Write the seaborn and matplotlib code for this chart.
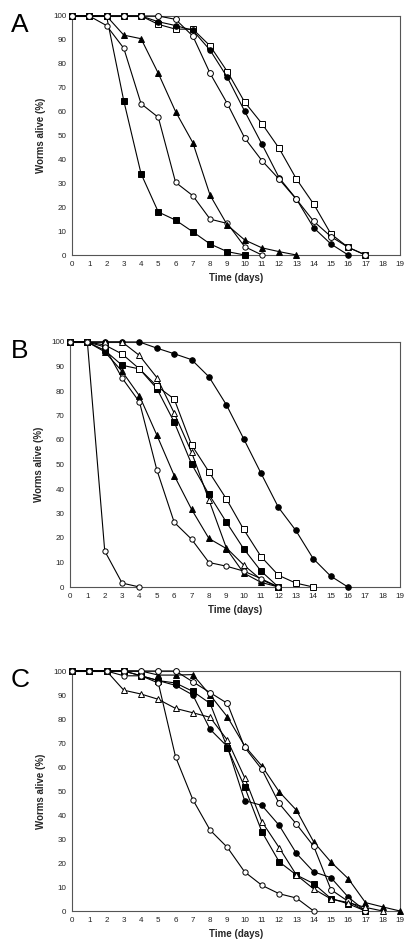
import numpy as np
import pandas as pd
import seaborn as sns
import matplotlib.pyplot as plt

# ---- Panel A: survival (%) per day ----
a_filled_square = [100, 100, 100, 64.5, 34, 18, 14.6, 9.7, 4.6, 1.4, 0]
a_open_circle_fast = [100, 100, 96, 86.5, 63.3, 57.6, 30.4, 24.8, 15, 13.2, 3.5, 0]
a_filled_triangle = [100, 100, 100, 92, 90.5, 76, 60, 47, 25, 12.5, 6.3, 3, 1.4, 0]
a_open_square = [100, 100, 100, 100, 100, 96.5, 94.5, 94.5, 87.5, 76.7, 64, 55, 44.6,
                 31.8, 21.3, 8.8, 3.2, 0]
a_filled_circle = [100, 100, 100, 100, 100, 97.6, 96, 94, 85.7, 74.3, 60.2, 46.4, 32.3,
                   23.4, 11.4, 4.6, 0]
a_open_circle = [100, 100, 100, 100, 100, 100, 98.6, 91.6, 76, 63.3, 49, 39.5, 31.7,
                 23.3, 14.1, 7.7, 3.2, 0]

# ---- Panel B ----
b_open_circle_fast = [100, 100, 14.7, 1.6, 0]
b_filled_circle = [100, 100, 100, 100, 100, 97.5, 95.2, 92.8, 85.8, 74.4, 60.5, 46.4,
                   32.5, 23.1, 11.6, 4.5, 0]
b_filled_square = [100, 100, 96.6, 90.5, 89, 81, 67.3, 50.2, 37.8, 26.5, 15.6, 6.5, 0]
b_open_square = [100, 100, 98.8, 95.1, 89, 82, 76.7, 58, 47, 36, 23.5, 12.4, 4.8, 1.6, 0]
b_open_triangle = [100, 100, 100, 100, 94.5, 85.5, 71, 55, 35.5, 16, 9, 3, 0]
b_filled_triangle = [100, 100, 96, 88, 78, 62, 45.5, 31.7, 19.8, 15.7, 5.7, 1.9, 0]
b_open_circle = [100, 100, 98, 85.3, 75.5, 47.8, 26.4, 19.5, 10, 8.5, 6.5, 3.4, 0]

# ---- Panel C ----
c_filled_square = [100, 100, 100, 100, 98, 96, 95, 91.5, 86.5, 68, 51.7, 33, 20.5, 15,
                   11.4, 5.2, 3, 0]
c_filled_circle = [100, 100, 100, 100, 98, 96, 94, 90, 75.7, 68.5, 46, 44, 35.7, 24,
                   16.3, 13.9, 5.8, 0]
c_filled_triangle = [100, 100, 100, 100, 100, 98.3, 98.3, 98.5, 90, 80.9, 68.8, 60.4,
                     49.7, 42, 28.8, 20.4, 13.5, 3.5, 1.7, 0]
c_open_circle = [100, 100, 100, 100, 100, 100, 100, 95.5, 91, 86.5, 68.2, 59, 44.8,
                 36.2, 27, 8.9, 4, 0]
c_open_triangle = [100, 100, 100, 92, 90.4, 88.2, 84.4, 82.6, 80.7, 71.2, 55.6, 37.2,
                   26.4, 15, 9.2, 5, 3.5, 1.5, 0]
c_open_circle_fast = [100, 100, 100, 98, 98, 95, 64.2, 46.4, 33.7, 26.5, 16.3, 10.7,
                      7.2, 5.4, 0]

panel_letters = ["A", "B", "C"]
day_ticks = list(range(0, 20))
pct_ticks = list(range(0, 101, 10))

# marker styles: (marker, face, size)
styles = {
    "filled_square": ("s", "black", 4.3),
    "open_square": ("s", "white", 4.8),
    "filled_circle": ("o", "black", 4.0),
    "open_circle": ("o", "white", 4.2),
    "open_circle_fast": ("o", "white", 3.8),
    "filled_triangle": ("^", "black", 4.6),
    "open_triangle": ("^", "white", 4.8),
}

panels = [
    [("filled_square", a_filled_square), ("open_circle_fast", a_open_circle_fast),
     ("filled_triangle", a_filled_triangle), ("open_square", a_open_square),
     ("filled_circle", a_filled_circle), ("open_circle", a_open_circle)],
    [("open_circle_fast", b_open_circle_fast), ("filled_circle", b_filled_circle),
     ("filled_square", b_filled_square), ("open_square", b_open_square),
     ("open_triangle", b_open_triangle), ("filled_triangle", b_filled_triangle),
     ("open_circle_fast", b_open_circle)],
    [("filled_square", c_filled_square), ("filled_circle", c_filled_circle),
     ("filled_triangle", c_filled_triangle), ("open_circle", c_open_circle),
     ("open_triangle", c_open_triangle), ("open_circle_fast", c_open_circle_fast)],
]

sns.set_style("ticks")
plt.rcParams["font.family"] = ["Liberation Sans", "DejaVu Sans"]

fig = plt.figure(figsize=(4.17, 9.49), dpi=100)
W, H = 417, 949
# axes boxes in pixels: left, top, right, bottom
boxes = [(72, 16, 400, 255), (70, 342, 400, 587), (72, 671, 400, 911)]

for letter, box, series in zip(panel_letters, boxes, panels):
    l, t, r, b = box
    ax = fig.add_axes([l / W, 1 - b / H, (r - l) / W, (b - t) / H])
    for name, vals in series:
        marker, face, ms = styles[name]
        days = np.arange(len(vals))
        sns.lineplot(x=days, y=vals, ax=ax, color="black", linewidth=0.8,
                     marker=marker, markersize=ms, markerfacecolor=face,
                     markeredgecolor="black", markeredgewidth=0.7,
                     clip_on=False, zorder=3)
    ax.set_xlim(0, 19)
    ax.set_ylim(0, 100)
    ax.set_xticks(day_ticks)
    ax.set_yticks(pct_ticks)
    ax.tick_params(length=0, labelsize=5.8, pad=4, colors="#222222")
    for s in ax.spines.values():
        s.set_linewidth(0.8)
        s.set_color("#555555")
    ax.set_xlabel("Time (days)", fontsize=7, fontweight="bold", labelpad=4)
    ax.set_ylabel("Worms alive (%)", fontsize=7, fontweight="bold", labelpad=5)
    fig.text(11 / W, 1 - (t + 9) / H, letter, fontsize=19, va="center", ha="left",
             color="black")

fig.savefig("out.png", dpi=100)
